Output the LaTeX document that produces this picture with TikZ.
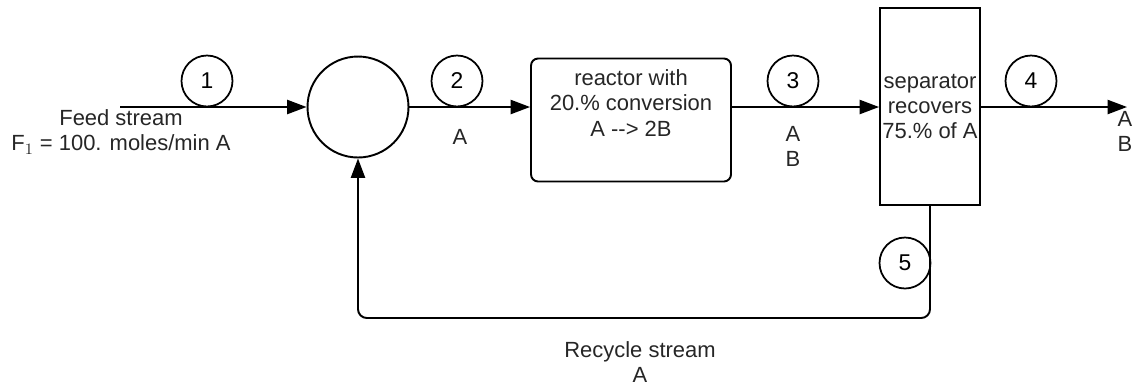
\documentclass[tikz,border=0pt]{standalone}
\usepackage{fontspec}
\setmainfont{Liberation Sans}
\usetikzlibrary{arrows.meta}
\begin{document}
\begin{tikzpicture}[x=0.02cm,y=-0.02cm,
  txt/.style={font=\fontsize{12.5}{14.3}\selectfont, inner sep=0pt, align=center, text=black!85},
  num/.style={draw, circle, line width=1pt, minimum size=1.02cm, inner sep=0pt, font=\fontsize{13}{15}\selectfont},
  stream/.style={line width=1.1pt, -{Triangle[length=11pt,width=8pt]}},
  plain/.style={line width=1.1pt}]
\useasboundingbox (0,0) rectangle (1135,387);
% units
\node[draw, circle, line width=1.1pt, minimum size=2.02cm, inner sep=0pt] (mix) at (358,107) {};
\node[draw, rectangle, rounded corners=4pt, line width=1.1pt, minimum width=4cm, minimum height=2.46cm] (reactor) at (631,120) {};
\node[txt] (rtext) at (631,103) {reactor with\\20.\% conversion\\A {-}{-}> 2B};
\node[draw, rectangle, line width=1.1pt, minimum width=2cm, minimum height=3.94cm, txt] (sep) at (930,106.5) {separator\\recovers\\75.\% of A};
% coordinates
\coordinate (feedstart) at (120,107);
\coordinate (outend) at (1127,107);
\coordinate (recyc) at (640,318);
% streams
\draw[stream] (feedstart) -- (mix.west);
\draw[stream] (mix.east) -- (mix.east -| reactor.west);
\draw[stream] (mix.east -| reactor.east) -- (mix.east -| sep.west);
\draw[stream] (mix.east -| sep.east) -- (outend);
\draw[stream, rounded corners=5pt] (sep.south) |- (recyc) -| (mix.south);
% stream numbers
\node[num] (n1) at (207,81) {1};
\node[num] (n2) at (457,81) {2};
\node[num] (n3) at (793,81) {3};
\node[num] (n4) at (1031,81) {4};
\node[num] (n5) at (905,263) {5};
% labels
\node[txt] (feedlbl) at (121,132) {Feed stream\\F$_1$ = 100. moles/min A};
\node[txt] (l2) at (460,137) {A};
\node[txt] (l3) at (793,146) {A\\B};
\node[txt] (l4) at (1125,131) {A\\B};
\node[txt] (lrec) at (640,362) {Recycle stream\\A};
\end{tikzpicture}
\end{document}
